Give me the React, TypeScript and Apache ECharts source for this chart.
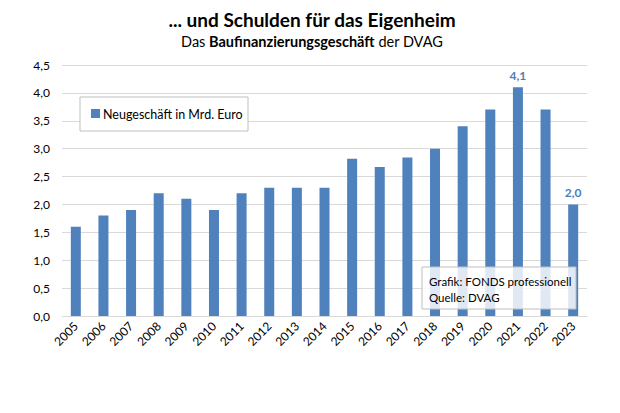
import React, { useEffect, useRef } from "react";
import * as echarts from "echarts";

const years = ["2005","2006","2007","2008","2009","2010","2011","2012","2013","2014","2015","2016","2017","2018","2019","2020","2021","2022","2023"];
const values = [1.6,1.8,1.9,2.2,2.1,1.9,2.2,2.3,2.3,2.3,2.82,2.67,2.84,3.0,3.4,3.7,4.1,3.7,2.0];
const labeledYears = ["2021","2023"];
const seriesName = "Neugeschäft in Mrd. Euro";

const FONT = "Lato, 'Open Sans', sans-serif";
const BAR = "#4f81bd";

export default function App() {
  const ref = useRef<HTMLDivElement>(null);
  useEffect(() => {
    document.body.style.margin = "0";
    if (!ref.current) return;
    const chart = echarts.init(ref.current, undefined, { renderer: "svg" });
    const fmt = (v: number) => v.toFixed(1).replace(".", ",");
    chart.setOption({
      animation: false,
      textStyle: { fontFamily: FONT },
      grid: { left: 62, right: 33, top: 65, bottom: 97, containLabel: false },
      xAxis: {
        type: "category",
        data: years,
        axisLine: { lineStyle: { color: "#d9d9d9" } },
        axisTick: { show: false },
        axisLabel: { rotate: 45, fontSize: 12, color: "#000", fontFamily: FONT, margin: 8 },
      },
      yAxis: {
        type: "value",
        min: 0,
        max: 4.5,
        interval: 0.5,
        axisLine: { show: false },
        axisTick: { show: false },
        splitLine: { lineStyle: { color: "#d9d9d9" } },
        axisLabel: { fontSize: 12, color: "#000", fontFamily: FONT, margin: 12, formatter: (v: number) => fmt(v) },
      },
      series: [
        {
          name: seriesName,
          type: "bar",
          barWidth: 10,
          itemStyle: { color: BAR },
          data: values.map((v, i) => ({
            value: v,
            label: labeledYears.includes(years[i])
              ? { show: true, position: "top", distance: 6, formatter: fmt(v), color: "#4a7ebb", fontWeight: "bold", fontSize: 12, fontFamily: FONT }
              : { show: false },
          })),
        },
      ],
      graphic: [
        {
          type: "text",
          x: 312, y: 19,
          style: { text: "... und Schulden für das Eigenheim", fontSize: 19, fontWeight: "bold", fontFamily: FONT, fill: "#000", align: "center", verticalAlign: "middle" },
        },
        {
          type: "text",
          x: 312, y: 41,
          style: {
            text: "Das {b|Baufinanzierungsgeschäft} der DVAG",
            fontSize: 14.5, fontFamily: FONT, fill: "#000", align: "center", verticalAlign: "middle",
            rich: { b: { fontSize: 14.5, fontWeight: "bold", fontFamily: FONT, fill: "#000" } },
          },
        },
        {
          type: "rect",
          shape: { x: 80, y: 97, width: 168, height: 34 },
          style: { fill: "#fff", stroke: "#bfbfbf", lineWidth: 1 },
          z: 10,
        },
        {
          type: "rect",
          shape: { x: 91, y: 109, width: 9, height: 9 },
          style: { fill: BAR },
          z: 11,
        },
        {
          type: "text",
          x: 103, y: 114,
          style: { text: seriesName, fontSize: 12.5, fontFamily: FONT, fill: "#000", verticalAlign: "middle" },
          z: 11,
        },
        {
          type: "rect",
          shape: { x: 422, y: 267, width: 154, height: 42 },
          style: { fill: "rgba(255,255,255,0.82)", stroke: "#bfbfbf", lineWidth: 1 },
          z: 10,
        },
        {
          type: "text",
          x: 429, y: 273,
          style: { text: "Grafik: FONDS professionell\nQuelle: DVAG", fontSize: 11.5, lineHeight: 16, fontFamily: FONT, fill: "#000" },
          z: 11,
        },
      ],
    });
    return () => chart.dispose();
  }, []);
  return <div ref={ref} style={{ width: 620, height: 413 }} />;
}
